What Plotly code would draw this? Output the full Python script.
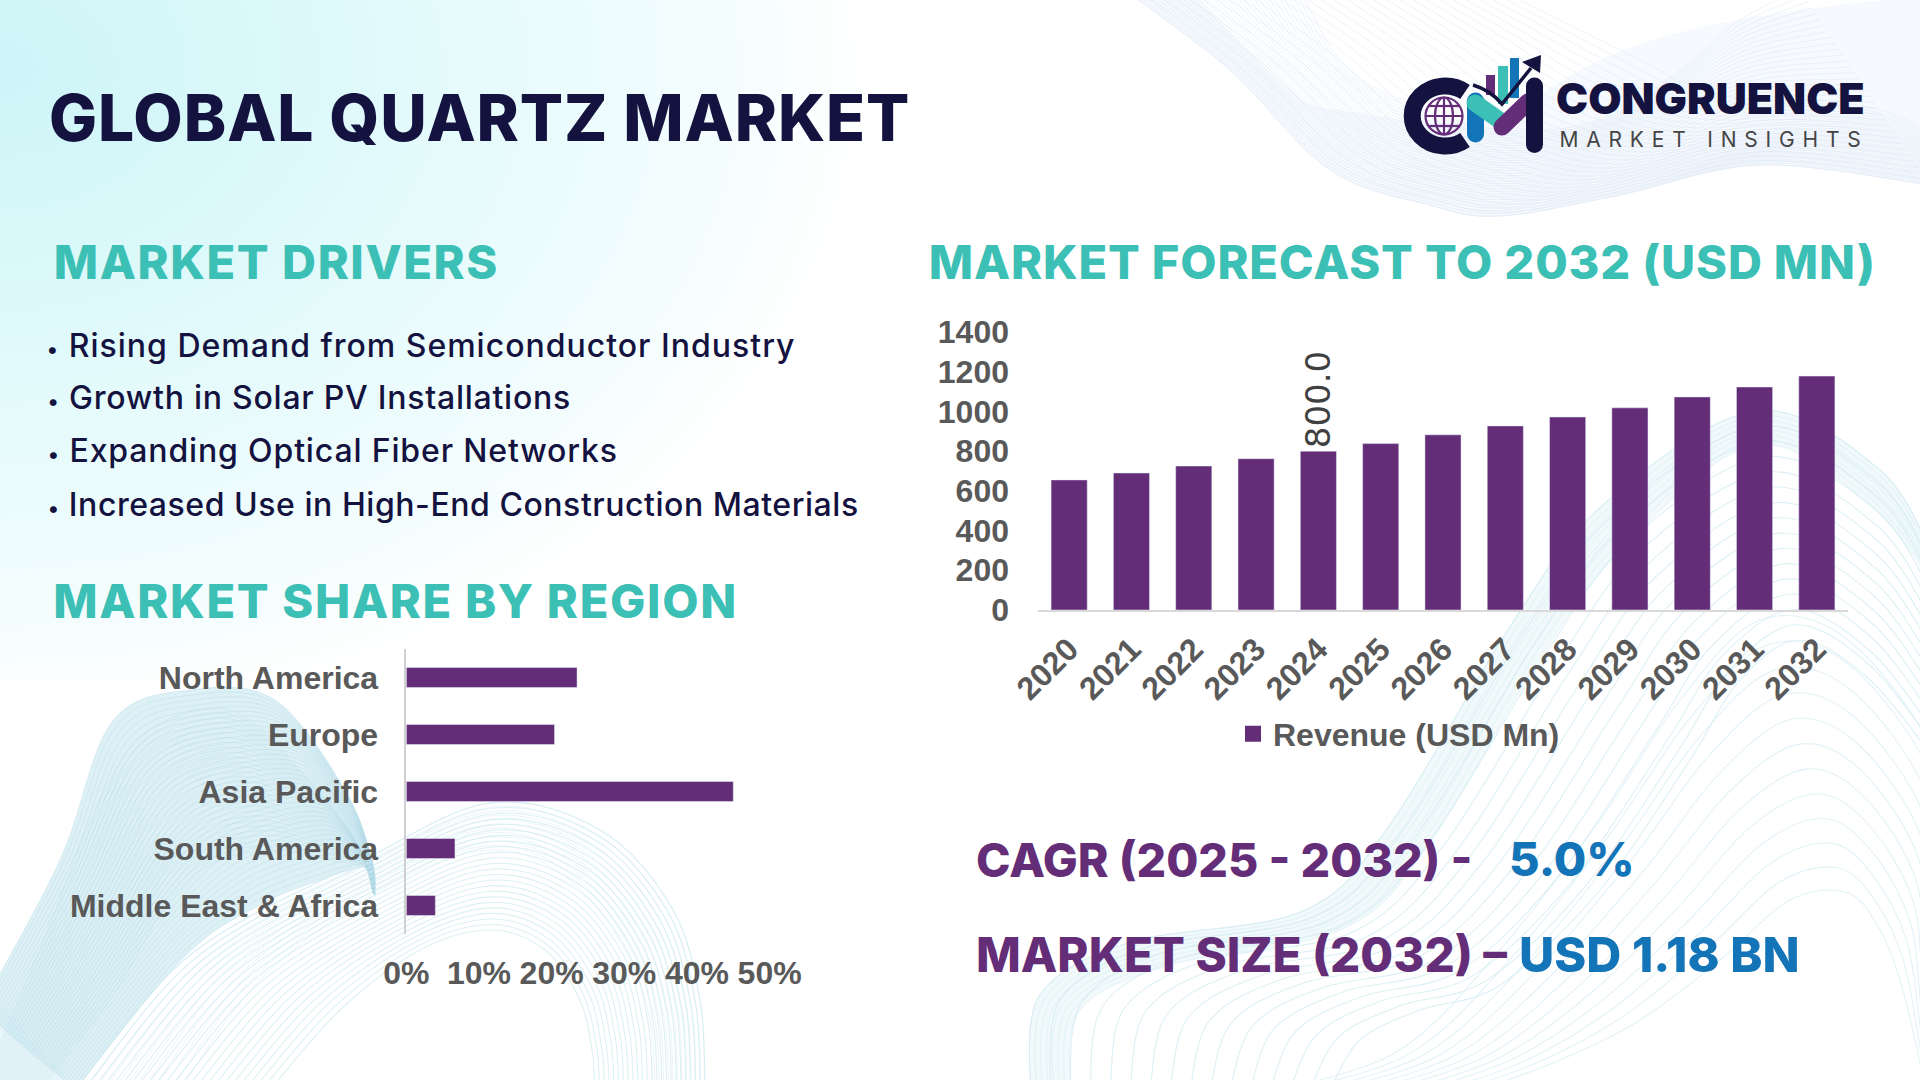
import base64, json
import numpy as np
import plotly.graph_objects as go

years = ["2020","2021","2022","2023","2024","2025","2026","2027","2028","2029","2030","2031","2032"]
revenue = [655, 690, 725, 762, 800, 838, 882, 927, 972, 1018, 1073, 1123, 1178]
revenue_labels = ["", "", "", "", "800.0", "", "", "", "", "", "", "", ""]
regions = ["North America", "Europe", "Asia Pacific", "South America", "Middle East & Africa"]
shares = [23.5, 20.4, 45.0, 6.7, 4.0]
drivers = ["Rising Demand from Semiconductor Industry", "Growth in Solar PV Installations",
           "Expanding Optical Fiber Networks", "Increased Use in High-End Construction Materials"]

W, H = 1920, 1080
PURPLE = "#642d78"; TEAL = "#3cbfb4"; NAVY = "#14123f"; BLUE = "#1474b8"; GREY = "#595959"

def smooth(pts):
    p = np.array(pts, float)
    d = f"M{p[0][0]:.1f},{p[0][1]:.1f}"
    for i in range(len(p) - 1):
        p0 = p[max(i - 1, 0)]; p1 = p[i]; p2 = p[i + 1]; p3 = p[min(i + 2, len(p) - 1)]
        c1 = p1 + (p2 - p0) / 6; c2 = p2 - (p3 - p1) / 6
        d += f"C{c1[0]:.1f},{c1[1]:.1f} {c2[0]:.1f},{c2[1]:.1f} {p2[0]:.1f},{p2[1]:.1f}"
    return d

def blend(a, b, n, color, op, sw=1.0):
    a = np.array(a, float); b = np.array(b, float)
    out = []
    for t in np.linspace(0, 1, n):
        out.append(f'<path d="{smooth(a + (b - a) * t)}"/>')
    return f'<g fill="none" stroke="{color}" stroke-opacity="{op}" stroke-width="{sw}">' + "".join(out) + "</g>"

def ribbon(a, b, fill, op):
    ra = smooth(a); rb = smooth(b[::-1])
    return f'<path d="{ra}L{rb[1:]}Z" fill="{fill}" fill-opacity="{op}"/>'

parts = [f'<svg xmlns="http://www.w3.org/2000/svg" width="{W}" height="{H}" viewBox="0 0 {W} {H}">',
         '<defs><radialGradient id="g" cx="0" cy="0.1" r="1" gradientUnits="objectBoundingBox">'
         '<stop offset="0" stop-color="#cdf5f8"/><stop offset="0.45" stop-color="#e2fafb"/>'
         '<stop offset="0.85" stop-color="#f6fdfe"/><stop offset="1" stop-color="#ffffff" stop-opacity="0"/>'
         '</radialGradient></defs>',
         f'<rect width="{W}" height="{H}" fill="#ffffff"/>',
         '<rect x="0" y="0" width="900" height="680" fill="url(#g)"/>']

# top right mesh
tr_a = [(1125,-10),(1230,70),(1330,170),(1430,205),(1500,216),(1620,195),(1760,165),(1930,185)]
tr_b = [(1300,-10),(1340,60),(1400,100),(1500,130),(1600,120),(1680,70),(1740,20),(1800,-10)]
tr_c = [(1190,-10),(1290,90),(1340,110),(1480,120),(1600,60),(1690,30),(1800,10),(1930,-5)]
parts.append(ribbon(tr_a, tr_c, "#eef4fb", 0.55))
parts.append(blend(tr_a, tr_b, 34, "#d6e4f3", 0.45))
parts.append(blend(tr_a, [(1500,-10),(1560,20),(1640,60),(1700,90),(1760,100),(1820,100),(1880,110),(1930,130)], 30, "#d6e4f3", 0.4))

# bottom left tower
t_a = [(-20,1010),(60,860),(112,722),(190,690),(275,700),(345,790),(372,860),(375,895)]
t_b = [(75,1090),(184,957),(260,905),(320,880),(350,870),(361,867),(367,870),(373,893)]
t_c = [(-20,1090),(40,950),(100,800),(150,730),(230,710),(300,770),(355,840),(374,890)]
t_d = [(40,1090),(110,1000),(170,900),(220,860),(280,850),(330,860),(365,868),(374,890)]
parts.append(ribbon(t_a, t_b, "#cfe9f1", 0.7))
parts.append('<path d="M-5,1000 L-5,1085 L75,1085 Z" fill="#d9eef5" fill-opacity="0.6"/>')
parts.append(blend(t_a, t_b, 40, "#a9d3e2", 0.32))
parts.append(blend(t_c, t_d, 30, "#a9d3e2", 0.28))

# bottom left second lobe
l_a = [(75,1090),(190,955),(360,862),(490,803),(600,830),(672,908),(700,1000),(705,1090)]
l_b = [(270,1090),(340,1010),(420,950),(490,930),(545,950),(580,1000),(592,1050),(595,1090)]
parts.append(blend(l_a, l_b, 24, "#cfeaf0", 0.7, 1.1))
parts.append(blend(l_a, [(180,1090),(260,980),(380,890),(490,850),(570,880),(625,950),(650,1020),(655,1090)], 12, "#cfeaf0", 0.45))

# bottom right
r_a = [(1030,1090),(1040,995),(1131,942),(1303,911),(1389,826),(1511,625),(1603,505),(1756,411),(1880,470),(1935,560)]
r_a2 = [(1070,1090),(1080,1010),(1170,965),(1340,930),(1425,850),(1545,650),(1635,535),(1756,445),(1865,500),(1935,585)]
r_b = [(1330,1090),(1360,1040),(1420,1010),(1500,985),(1600,890),(1690,760),(1740,680),(1800,640),(1870,680),(1935,760)]
parts.append(ribbon(r_a, r_a2, "#edf8fa", 0.8))
parts.append(blend(r_a, r_a2, 8, "#d6edf3", 0.6))
parts.append(blend(r_a, r_b, 16, "#d2ebf2", 0.75, 1.1))
r_c = [(1480,1090),(1560,1060),(1640,1020),(1720,960),(1790,900),(1848,893),(1880,930),(1900,980),(1915,1040),(1925,1090)]
r_d = [(1280,1090),(1400,1050),(1500,950),(1600,820),(1680,700),(1760,620),(1848,640),(1935,760),(1935,900),(1935,1090)]
parts.append(blend(r_c, r_d, 12, "#d2ebf2", 0.65, 1.1))

# logo mark
parts.append('<path d="M1465.0,92.0 A33,30 0 1 0 1465.0,140.0" fill="none" stroke="%s" stroke-width="17"/>' % NAVY)
globe = [f'<circle cx="1444" cy="116" r="18.5" fill="none" stroke="{PURPLE}" stroke-width="2.2"/>',
         f'<ellipse cx="1444" cy="116" rx="9" ry="18.5" fill="none" stroke="{PURPLE}" stroke-width="2.2"/>']
for dy in (-10, 0, 10):
    hw = (18.5**2 - dy**2)**0.5
    globe.append(f'<path d="M{1444-hw:.1f},{116+dy} H{1444+hw:.1f}" stroke="{PURPLE}" stroke-width="2.2"/>')
globe.append(f'<path d="M1444,97.5 V134.5" stroke="{PURPLE}" stroke-width="2.2"/>')
parts += globe
parts.append('<rect x="1486" y="75" width="9" height="20" fill="#642d78"/>')
parts.append('<rect x="1498" y="66" width="10" height="38" fill="#3cbfb4"/>')
parts.append('<rect x="1510" y="58" width="9" height="40" fill="#1474b8"/>')
parts.append('<path d="M1475.5,101 V134" stroke="#1474b8" stroke-width="17" stroke-linecap="round"/>')
parts.append('<path d="M1475,103 L1502,122" stroke="#3cbfb4" stroke-width="17" stroke-linecap="round"/>')
parts.append('<path d="M1502,127 L1528,102" stroke="#642d78" stroke-width="17" stroke-linecap="round"/>')
parts.append(f'<path d="M1534.5,86 V144.5" stroke="{NAVY}" stroke-width="17" stroke-linecap="round"/>')
parts.append(f'<path d="M1473,85 Q1490,90 1502,104 L1531,68" fill="none" stroke="{NAVY}" stroke-width="3.5"/>')
parts.append(f'<path d="M1541,55 L1522,62 L1540,73 Z" fill="{NAVY}"/>')
parts.append('</svg>')
svg = "".join(parts)
bg_uri = "data:image/svg+xml;base64," + base64.b64encode(svg.encode()).decode()

fig = go.Figure()
fig.add_trace(go.Bar(x=years, y=revenue, marker_color=PURPLE, width=0.58, text=revenue_labels,
                     textposition="outside", textangle=-90, cliponaxis=False, constraintext="none",
                     textfont=dict(family="DejaVu Sans", size=34, color="#404040"),
                     showlegend=False, xaxis="x", yaxis="y", hoverinfo="skip"))
fig.add_trace(go.Scatter(x=[None], y=[None], mode="markers", name="Revenue (USD Mn)",
                         marker=dict(symbol="square", size=16, color=PURPLE), xaxis="x", yaxis="y"))
fig.add_trace(go.Bar(y=regions, x=shares, orientation="h", marker_color=PURPLE, width=0.35,
                     showlegend=False, xaxis="x2", yaxis="y2", hoverinfo="skip"))

def px(x): return x / W
def py(y): return 1 - y / H

tick_font = dict(family="Liberation Sans", size=32, color=GREY, weight=700)
annos = []
spacing = {}
def text(s, x, cy, size, color, weight, anchor="left", ls=None):
    annos.append(dict(text=s, x=px(x), y=py(cy), xref="paper", yref="paper", xanchor=anchor, yanchor="middle",
                      showarrow=False, borderpad=0, font=dict(family="Inter", size=size, color=color, weight=weight)))
    if ls is not None:
        spacing[s.replace("<span style='font-size:22px'>", "").replace("</span>", "")] = ls

text("GLOBAL QUARTZ MARKET", 479, 117, 64, NAVY, 800, "center", 0.9)
text("MARKET DRIVERS", 276, 261, 47, TEAL, 800, "center", 1.6)
text("MARKET SHARE BY REGION", 395, 600, 47, TEAL, 800, "center", 1.7)
text("MARKET FORECAST TO 2032 (USD MN)", 1402, 261, 47, TEAL, 800, "center", 0.85)
for s, cx, cy, ls in zip(drivers, [421, 309, 332, 453], [345, 398, 451, 505], [1.0, 0.75, 0.85, 0.54]):
    text("<span style='font-size:22px'>•</span> " + s, cx, cy, 32, NAVY, 500, "center", ls)
text("CAGR (2025 - 2032) -", 975, 860, 46.5, PURPLE, 800)
text("5.0%", 1508, 858, 47, BLUE, 800)
text("MARKET SIZE (2032) –", 975, 954, 47.5, PURPLE, 800)
text("USD 1.18 BN", 1518, 954, 48.5, BLUE, 800)
text("CONGRUENCE", 1710, 98, 43, NAVY, 900, "center")
text("MARKET INSIGHTS", 1714, 139, 21, "#444444", 400, "center", 7.8)

fig.update_layout(
    width=W, height=H, autosize=False, margin=dict(l=0, r=0, t=0, b=0, pad=0, autoexpand=False),
    paper_bgcolor="white", plot_bgcolor="rgba(0,0,0,0)",
    images=[dict(source=bg_uri, xref="paper", yref="paper", x=0, y=1, sizex=1, sizey=1,
                 xanchor="left", yanchor="top", sizing="stretch", layer="below")],
    annotations=annos,
    showlegend=True,
    legend=dict(x=px(1233), y=py(734), xanchor="left", yanchor="middle", bgcolor="rgba(0,0,0,0)",
                font=dict(family="Liberation Sans", size=32, color=GREY, weight=700)),
    xaxis=dict(domain=[px(1038), px(1848)], type="category", anchor="y", showgrid=False, zeroline=False,
               showline=True, linecolor="#d9d9d9", linewidth=1.5, tickangle=-45, ticks="", tickfont=tick_font,
               ticklabelstandoff=6),
    yaxis=dict(domain=[py(610), py(332)], range=[0, 1400], dtick=200, anchor="x", showgrid=False, zeroline=False,
               showline=False, ticks="", tickfont=tick_font, ticklabelstandoff=28),
    xaxis2=dict(domain=[px(406.3), px(769.6)], range=[0, 50], dtick=10, ticksuffix="%", anchor="y2", showgrid=False,
                zeroline=False, showline=False, ticks="", tickfont=tick_font, ticklabelstandoff=17),
    yaxis2=dict(domain=[py(934), py(649)], type="category", autorange="reversed", anchor="x2", showgrid=False,
                zeroline=False, showline=True, linecolor="#d0d0d0", linewidth=1.5, ticks="", tickfont=tick_font,
                ticklabelstandoff=20),
)

post = ("document.body.style.margin='0';document.documentElement.style.overflow='hidden';"
        "var sp=" + json.dumps(spacing, ensure_ascii=False) + ";"
        "document.querySelectorAll('.annotation-text').forEach(function(t){var k=t.textContent;"
        "if(sp[k]!==undefined){t.style.letterSpacing=sp[k]+'px';}});")
fig.write_html("out.html", post_script=post, config=dict(displayModeBar=False))
